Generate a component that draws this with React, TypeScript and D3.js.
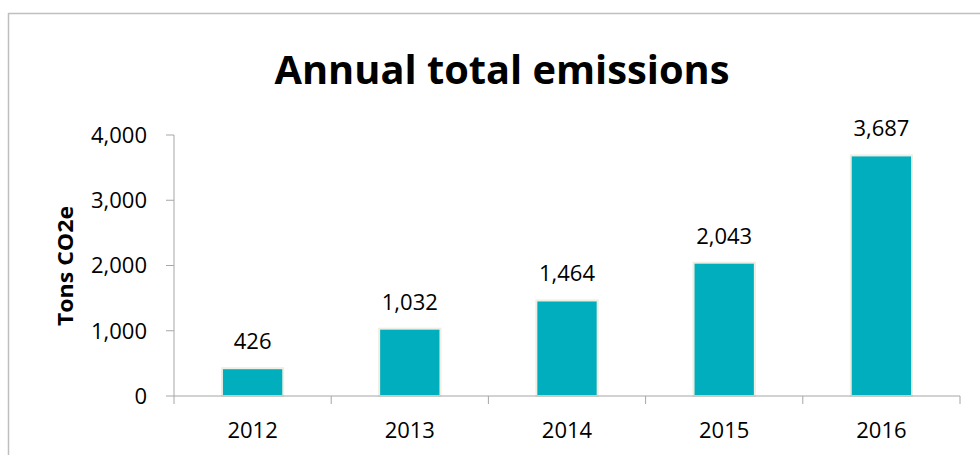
import React from "react";
import * as d3 from "d3";

const categories = ["2012", "2013", "2014", "2015", "2016"];
const values = [426, 1032, 1464, 2043, 3687];
const yTicks = [0, 1000, 2000, 3000, 4000];
const title = "Annual total emissions";
const yTitle = "Tons CO2e";

const W = 980;
const H = 455;
const FONT = "'Open Sans', sans-serif";

export default function App() {
  const x = d3.scaleBand<string>().domain(categories).range([174, 960]).padding(0);
  const y = d3.scaleLinear().domain([0, 4000]).range([396, 135]);
  const fmt = d3.format(",");
  const barW = x.bandwidth() * 0.39;
  const axisColor = "#A6A6A6";

  return (
    <svg
      width={W}
      height={H}
      viewBox={`0 0 ${W} ${H}`}
      style={{ position: "absolute", left: 0, top: 0, background: "#fff" }}
      fontFamily={FONT}
    >
      {/* frame */}
      <line x1={8.5} y1={13} x2={8.5} y2={H} stroke="#BFBFBF" strokeWidth={1.5} />
      <line x1={8} y1={13.5} x2={W} y2={13.5} stroke="#BFBFBF" strokeWidth={1.5} />

      {/* title */}
      <text x={502} y={84} textAnchor="middle" fontSize={39} fontWeight="bold" fill="#000" textLength={455} lengthAdjust="spacingAndGlyphs">
        {title}
      </text>

      {/* bars */}
      {values.map((v, i) => {
        const cx = (x(categories[i]) as number) + x.bandwidth() / 2;
        return (
          <g key={categories[i]}>
            <rect
              x={cx - barW / 2}
              y={y(v)}
              width={barW}
              height={y(0) - y(v)}
              fill="#00AEBD"
              stroke="#EEEEE2"
              strokeWidth={2}
            />
            <text x={cx} y={y(v) - 19} textAnchor="middle" fontSize={22} fill="#000">
              {fmt(v)}
            </text>
          </g>
        );
      })}

      {/* y axis */}
      <line x1={174} y1={y(4000)} x2={174} y2={y(0)} stroke={axisColor} strokeWidth={1} />
      {yTicks.map((t) => (
        <g key={t}>
          <line x1={166} x2={174} y1={y(t)} y2={y(t)} stroke={axisColor} strokeWidth={1} />
          <text x={147} y={y(t)} dy="0.36em" textAnchor="end" fontSize={22} fill="#000">
            {fmt(t)}
          </text>
        </g>
      ))}

      {/* x axis */}
      <line x1={174} x2={960} y1={y(0)} y2={y(0)} stroke={axisColor} strokeWidth={1} />
      {categories.map((c) => (
        <line key={"t" + c} x1={x(c) as number} x2={x(c) as number} y1={y(0)} y2={y(0) + 8} stroke={axisColor} strokeWidth={1} />
      ))}
      <line x1={960} x2={960} y1={y(0)} y2={y(0) + 8} stroke={axisColor} strokeWidth={1} />
      {categories.map((c) => (
        <text key={c} x={(x(c) as number) + x.bandwidth() / 2} y={438} textAnchor="middle" fontSize={22} fill="#000">
          {c}
        </text>
      ))}

      {/* y title */}
      <text
        transform={`translate(73, 266) rotate(-90)`}
        textAnchor="middle"
        fontSize={22}
        fontWeight="bold"
        fill="#000"
        textLength={120}
        lengthAdjust="spacingAndGlyphs"
      >
        {yTitle}
      </text>
    </svg>
  );
}
